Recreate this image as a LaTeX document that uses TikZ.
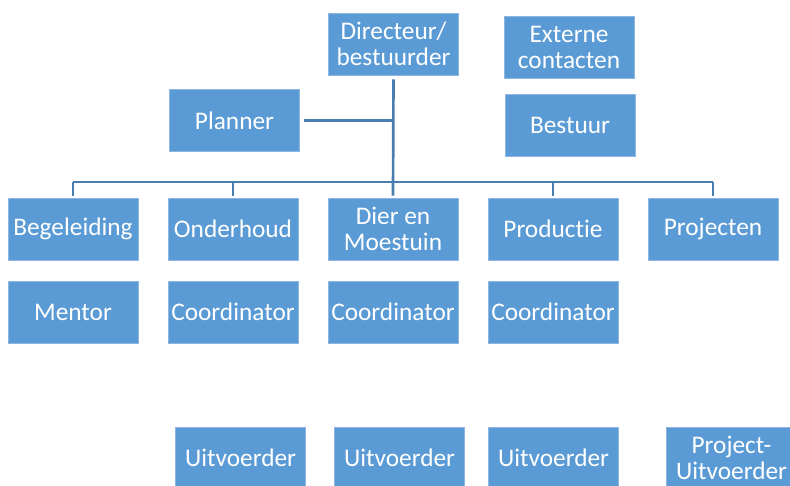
\documentclass[tikz,border=0pt]{standalone}
\usepackage{fontspec}
\setmainfont{Carlito}[Ligatures={NoCommon,NoContextual}]
\definecolor{boxblue}{HTML}{5B9BD5}
\definecolor{boxedge}{HTML}{8DB6E2}
\definecolor{linkblue}{HTML}{4A7DB0}
\tikzset{
  unit/.style={rectangle, fill=boxblue, draw=boxedge, line width=0.5pt, text=white,
    font=\fontsize{19}{19.5}\selectfont, minimum width=97.5pt, minimum height=46.5pt,
    inner sep=0pt, align=center},
  link/.style={draw=linkblue, line width=1.6pt},
}
\begin{document}
\begin{tikzpicture}[x=0.75pt,y=-0.75pt]
\useasboundingbox (0,0) rectangle (790,486);

% top
\node[unit] (dir) at (393.5,44) {Directeur/\\bestuurder};
\node[unit] (ext) at (569,47) {Externe\\contacten};
\node[unit] (bestuur) at (570,125) {Bestuur};
\node[unit] (planner) at (234.5,120.5) {Planner};

% afdelingen
\foreach \naam/\tekst [count=\i] in {beg/Begeleiding,ond/Onderhoud,dier/{Dier en\\Moestuin},prod/Productie,proj/Projecten}
    {
        \node[unit] (\naam) at ({-87+160*\i},229) {\tekst};
    }

% tweede rij
\foreach \naam/\tekst [count=\i] in {mentor/Mentor,coordond/Coordinator,coorddier/Coordinator,coordprod/Coordinator}
    {
        \node[unit] (\naam) at ({-87+160*\i},312) {\tekst};
    }

% uitvoerders
\node[unit] (uitond) at (240.5,458) {Uitvoerder};
\node[unit] (uitdier) at (399.5,458) {Uitvoerder};
\node[unit] (uitprod) at (553.5,458) {Uitvoerder};
\node[unit] (uitproj) at (731.5,458) {Project-\\Uitvoerder};

% lijnen
\coordinate (bus) at (393,182);
\draw[link, line width=2pt] ([yshift=-3pt]dir.south) -- ([yshift=1.5pt]dier.north);
\draw[link] ([xshift=3pt]planner.east) -- (planner.east -| dir.south);
\draw[link] (bus -| beg.north) -- (bus -| proj.north);
\foreach \naam in {beg,ond,prod,proj}
    {
        \draw[link] (bus -| \naam.north) -- ([yshift=1.5pt]\naam.north);
    }
\end{tikzpicture}
\end{document}
